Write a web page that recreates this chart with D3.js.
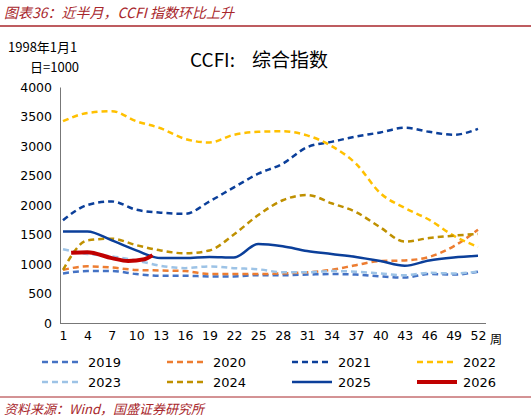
<!DOCTYPE html><html><head><meta charset="utf-8"><script src="https://cdn.jsdelivr.net/npm/d3@7"></script>
<style>body{margin:0;background:#fff;font-family:"Noto Sans CJK SC",sans-serif}</style></head><body><svg id="c" width="531" height="420"></svg>
<script>
const weeks=[1,4,7,10,13,16,19,22,25,28,31,34,37,40,43,46,49,52];
const xTicks=[1,4,7,10,13,16,19,22,25,28,31,34,37,40,43,46,49,52];
const yTicks=[0,500,1000,1500,2000,2500,3000,3500,4000];
const s2019=[840,880,880,830,800,800,790,790,810,810,820,830,820,790,770,830,820,870];
const s2020=[900,960,940,900,890,880,830,830,830,840,860,900,980,1050,1060,1120,1300,1580];
const s2021=[1740,2000,2060,1920,1870,1850,2060,2300,2530,2700,2980,3070,3160,3230,3310,3240,3190,3290];
const s2022=[3420,3560,3590,3420,3300,3120,3060,3190,3240,3250,3180,3000,2700,2200,1950,1750,1480,1290];
const s2023=[1250,1170,1130,1060,970,930,960,930,910,860,860,880,870,840,810,850,840,870];
const s2024=[900,1400,1430,1320,1230,1180,1230,1500,1830,2080,2170,2030,1880,1620,1380,1440,1480,1510];
const s2025=[1550,1550,1400,1230,1100,1100,1120,1110,1340,1300,1220,1170,1120,1050,970,1060,1110,1140];
const w2026=[2,4,7,9,11,12];
const s2026=[1190,1200,1100,1050,1080,1150];
const series=[
 {n:"2019",v:s2019,c:"#4472c4",d:"6,4",w:2.5},
 {n:"2020",v:s2020,c:"#ed7d31",d:"6,4",w:2.5},
 {n:"2021",v:s2021,c:"#0b3f9a",d:"6,4",w:2.5},
 {n:"2022",v:s2022,c:"#ffc000",d:"6,4",w:2.5},
 {n:"2023",v:s2023,c:"#9dc3e6",d:"6,4",w:2.5},
 {n:"2024",v:s2024,c:"#bf9000",d:"6,4",w:2.5},
 {n:"2025",v:s2025,c:"#0b3f9a",d:null,w:2.5},
 {n:"2026",v:s2026,x:w2026,c:"#c00000",d:null,w:4}];
const svg=d3.select("#c");
svg.append("text").attr("x",4).attr("y",18).attr("fill","#a8262b").attr("font-size",14).attr("font-style","italic").text("图表36：近半月，CCFI 指数环比上升");
svg.append("line").attr("x1",0).attr("x2",531).attr("y1",26).attr("y2",26).attr("stroke","#a8262b").attr("stroke-width",1.5);
const x=d3.scaleLinear().domain([1,52]).range([63,478]);
const y=d3.scaleLinear().domain([0,4000]).range([323,87]);
svg.append("text").attr("x",8).attr("y",52).attr("font-size",13).text("1998年1月1");
svg.append("text").attr("x",30).attr("y",72).attr("font-size",13).text("日=1000");
svg.append("text").attr("x",190).attr("y",67).attr("font-size",19).text("CCFI:");
svg.append("text").attr("x",252).attr("y",67).attr("font-size",19).text("综合指数");
const ya=svg.append("g").attr("transform","translate(60,0)").call(d3.axisLeft(y).tickValues(yTicks).tickFormat(d3.format("d")).tickSize(0).tickPadding(8));
const xa=svg.append("g").attr("transform","translate(0,323)").call(d3.axisBottom(x).tickValues(xTicks).tickSize(0).tickPadding(8));
[ya,xa].forEach(a=>{a.selectAll("text").attr("font-size",12.5).attr("fill","#000").attr("font-family","DejaVu Sans");a.select(".domain").attr("stroke","#777");});
xa.select(".domain").attr("d","M60,0.5H486");
svg.append("text").attr("x",490).attr("y",344).attr("font-size",12).text("周");
const line=d3.line().curve(d3.curveMonotoneX);
series.forEach(s=>{const xs=s.x||weeks;
 svg.append("path").attr("d",line(s.v.map((v,i)=>[x(xs[i]),y(v)]))).attr("fill","none").attr("stroke",s.c).attr("stroke-width",s.w).attr("stroke-dasharray",s.d);});
series.forEach((s,i)=>{const lx=42+(i%4)*125, ly=i<4?362:382;
 svg.append("line").attr("x1",lx).attr("x2",lx+40).attr("y1",ly).attr("y2",ly).attr("stroke",s.c).attr("stroke-width",s.w).attr("stroke-dasharray",s.d);
 svg.append("text").attr("x",lx+46).attr("y",ly+5).attr("font-size",13).attr("font-family","DejaVu Sans").text(s.n);});
svg.append("line").attr("x1",0).attr("x2",531).attr("y1",397).attr("y2",397).attr("stroke","#a8262b").attr("stroke-width",1);
svg.append("text").attr("x",4).attr("y",414).attr("fill","#a8262b").attr("font-size",13).attr("font-style","italic").text("资料来源：Wind，国盛证券研究所");
</script></body></html>
